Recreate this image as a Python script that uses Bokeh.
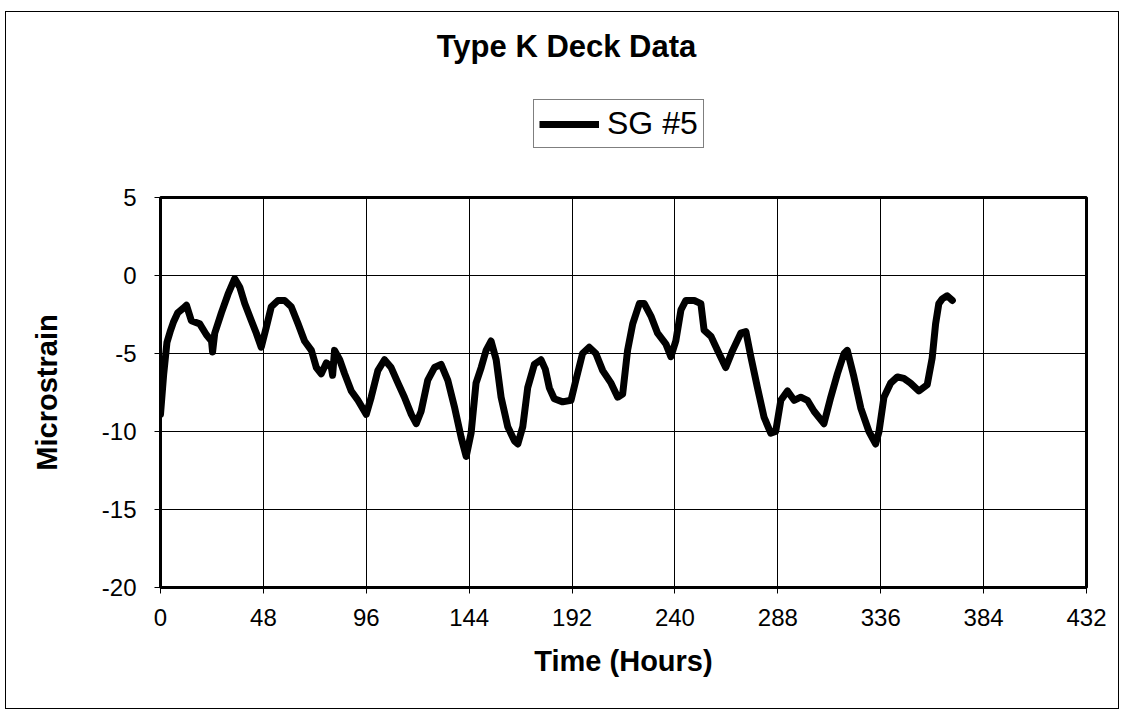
from bokeh.plotting import figure
from bokeh.layouts import column
from bokeh.models import Range1d, FixedTicker, Legend, LegendItem, Label
from bokeh.embed import file_html
from bokeh.resources import INLINE

# ---- data ----
hours = [0, 1.5, 3, 4.5, 6, 8, 10.6, 12.1, 14.4, 18.3, 21.4, 23.8, 24.3, 25.3,
         28.4, 31.5, 34.6, 37, 39.3, 42.4, 44.7, 47, 49.4, 51.7, 54.8, 57.9,
         61, 64.2, 67.2, 70.4, 72.7, 75, 77.4, 79.7, 80.3, 81.2, 83.6, 85.9,
         89, 92.1, 96, 98.3, 101.4, 104.5, 107.6, 110.8, 113.8, 117, 119.3,
         121.6, 124.7, 127.8, 130.9, 134, 137.1, 140.3, 142.6, 144.9, 147.2,
         149.6, 151.9, 154.2, 156.6, 158.9, 162, 165.1, 166.7, 169, 171.3,
         174.4, 177.5, 179.5, 181.4, 183.7, 187.6, 191.5, 193.8, 196.9, 200,
         203.1, 206.3, 210.2, 213.3, 215.6, 217.9, 220.3, 223.4, 225.7, 228.8,
         231.9, 235.8, 238.1, 240.4, 242.8, 245.1, 249, 252.1, 253.6, 256.8,
         259.9, 263.7, 266.9, 270.7, 273.1, 275.4, 278.5, 281.6, 284.7, 287,
         289.4, 292.5, 295.6, 298.7, 301.8, 304.9, 309.5, 312.7, 315.8, 318.9,
         320.4, 323.5, 326.7, 330.5, 333.6, 335.2, 337.5, 340.6, 343.8, 346.8,
         349.9, 353.8, 357.7, 360, 361.6, 363.1, 364.7, 367, 369.4]
microstrain = [-8.9, -6.3, -4.3, -3.6, -3.0, -2.4, -2.1, -1.9, -2.9, -3.1, -3.8,
               -4.2, -4.9, -3.7, -2.4, -1.2, -0.2, -0.75, -1.8, -2.9, -3.7, -4.6,
               -3.3, -2.0, -1.6, -1.6, -2.0, -3.1, -4.2, -4.8, -5.9, -6.3, -5.6,
               -5.9, -6.4, -4.8, -5.4, -6.3, -7.4, -8.0, -8.9, -7.8, -6.1, -5.4,
               -5.9, -6.9, -7.8, -8.9, -9.5, -8.7, -6.7, -5.9, -5.7, -6.7, -8.4,
               -10.4, -11.6, -10.1, -6.9, -5.9, -4.8, -4.2, -5.4, -7.8, -9.7,
               -10.6, -10.8, -9.7, -7.2, -5.7, -5.4, -6.0, -7.2, -7.9, -8.1,
               -8.0, -6.7, -5.0, -4.6, -5.0, -6.1, -6.9, -7.8, -7.6, -4.8, -3.1,
               -1.8, -1.8, -2.6, -3.7, -4.4, -5.2, -4.2, -2.2, -1.6, -1.6, -1.8,
               -3.5, -3.9, -4.8, -5.9, -4.8, -3.7, -3.6, -5.2, -7.2, -9.1, -10.1,
               -10.0, -8.0, -7.4, -8.0, -7.8, -8.0, -8.7, -9.5, -7.8, -6.3, -5.0,
               -4.8, -6.5, -8.5, -10.0, -10.8, -10.0, -7.8, -6.9, -6.5, -6.6,
               -6.9, -7.4, -7.0, -5.3, -3.1, -1.8, -1.5, -1.3, -1.6]
x_ticks = [0, 48, 96, 144, 192, 240, 288, 336, 384, 432]
y_ticks = [5, 0, -5, -10, -15, -20]
series_name = "SG #5"
title_text = "Type K Deck Data"
x_title = "Time (Hours)"
y_title = "Microstrain"

FONT = "Liberation Sans"

# ---- header: title and legend (same frame columns as the main plot) ----
# The header's y range lies far above the data, so the series drawn here only
# serves as the legend's swatch and stays out of view.
head = figure(frame_width=926, frame_height=170, output_backend="svg",
              toolbar_location=None, title=None,
              x_axis_type=None, y_axis_type=None,
              x_range=Range1d(0, 926), y_range=Range1d(100, 270),
              min_border_left=154, min_border_right=32,
              min_border_top=0, min_border_bottom=0,
              outline_line_color=None,
              background_fill_color="white", border_fill_color="white")
head.grid.visible = False

head.add_layout(Label(x=406, y=236, text=title_text, text_align="center",
                      text_baseline="alphabetic", text_font=FONT,
                      text_font_size="31px", text_font_style="bold",
                      text_color="black"))

swatch = head.line(hours, microstrain, line_color="black", line_width=7)
legend = Legend(items=[LegendItem(label=series_name, renderers=[swatch])],
                location=(373, 34), orientation="vertical",
                border_line_color="black", border_line_width=1,
                background_fill_color="white", background_fill_alpha=1,
                padding=5, margin=0, spacing=0,
                glyph_width=60, glyph_height=30, label_standoff=8,
                label_text_font=FONT, label_text_font_size="32px",
                label_text_color="black", label_height=30)
head.add_layout(legend, "center")

# ---- main plot ----
p = figure(frame_width=926, frame_height=390, output_backend="svg",
           toolbar_location=None, title=None,
           x_range=Range1d(0, 432), y_range=Range1d(-20, 5),
           min_border_left=154, min_border_right=32,
           min_border_top=15, min_border_bottom=121,
           background_fill_color="white", border_fill_color="white")

p.outline_line_color = "black"
p.outline_line_width = 3

p.line(hours, microstrain, line_color="black", line_width=7,
       line_join="round", line_cap="round")

for ax, ticks in ((p.xaxis[0], x_ticks), (p.yaxis[0], y_ticks)):
    ax.ticker = FixedTicker(ticks=ticks)
    ax.major_label_overrides = {t: str(t) for t in ticks}
    ax.axis_line_color = "black"
    ax.axis_line_width = 3
    ax.major_tick_line_color = "black"
    ax.major_tick_line_width = 1
    ax.major_tick_out = 6
    ax.major_tick_in = 0
    ax.minor_tick_line_color = None
    ax.major_label_text_font = FONT
    ax.major_label_text_font_size = "24px"
    ax.major_label_text_color = "black"
    ax.axis_label_text_font = FONT
    ax.axis_label_text_font_size = "29px"
    ax.axis_label_text_font_style = "bold"
    ax.axis_label_text_color = "black"

p.xaxis[0].axis_label = x_title
p.yaxis[0].axis_label = y_title
p.xaxis[0].major_label_standoff = 15
p.xaxis[0].axis_label_standoff = 16
p.yaxis[0].major_label_standoff = 18
p.yaxis[0].axis_label_standoff = 36

for g in (p.xgrid[0], p.ygrid[0]):
    g.grid_line_color = "black"
    g.grid_line_width = 1
p.xgrid[0].ticker = FixedTicker(ticks=x_ticks)
p.ygrid[0].ticker = FixedTicker(ticks=y_ticks)

layout = column(head, p, spacing=0)
layout.styles = {"position": "relative", "left": "6px", "top": "12px",
                 "outline": "1px solid black"}

open("out.html", "w").write(file_html(layout, INLINE))
